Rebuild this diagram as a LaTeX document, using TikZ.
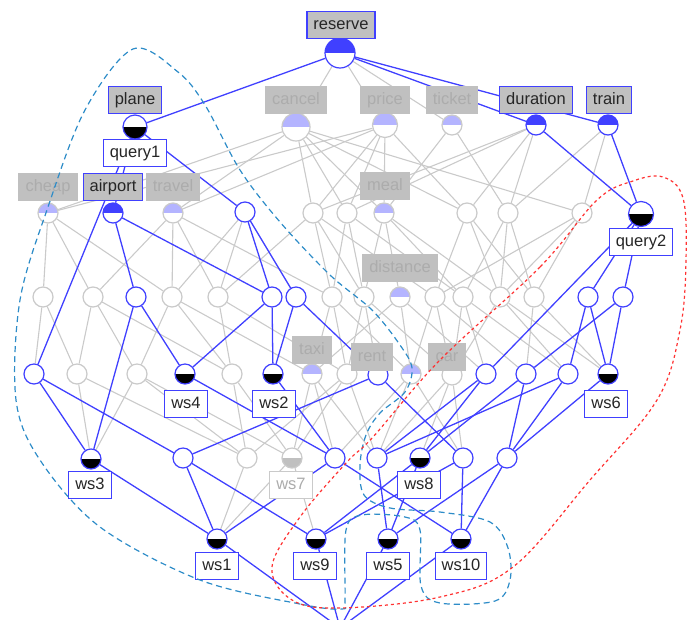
\documentclass[tikz,border=0pt]{standalone}
\usepackage{fontspec}
\setmainfont{Liberation Sans}
\pgfdeclarelayer{bg}
\pgfsetlayers{bg,main}
\begin{document}
\begin{tikzpicture}[x=1pt,y=-1pt]
\definecolor{bl}{RGB}{64,64,255}
\definecolor{gl}{RGB}{202,202,202}
\definecolor{gfill}{RGB}{192,192,192}
\definecolor{gtext}{RGB}{172,172,172}
\definecolor{lb}{RGB}{180,180,255}
\definecolor{dsh}{RGB}{45,140,200}
\definecolor{rd}{RGB}{255,50,50}
\tikzset{
  ge/.style={draw=gl, line width=1.1pt},
  be/.style={draw=bl, line width=1.3pt},
  lab/.style={font=\fontsize{16.5}{18}\selectfont, minimum height=27pt, inner xsep=6.5pt, inner ysep=0pt, text height=12pt, text depth=3.5pt, line width=1.2pt},
  alab/.style={lab, fill=gfill, draw=bl, text=black!85},
  glab/.style={lab, fill=gfill, draw=gfill, text=gtext},
  olab/.style={lab, fill=white, draw=bl, text=black!85},
  golab/.style={lab, fill=white, draw=gl, text=gtext},
  cn/.style={circle, draw=bl, fill=white, line width=1.2pt, minimum size=20pt, inner sep=0pt},
  gn/.style={cn, draw=gl},
  up/.style={path picture={\fill[#1] (path picture bounding box.north west) rectangle (path picture bounding box.east);}},
  dn/.style={path picture={\fill[#1] (path picture bounding box.west) rectangle (path picture bounding box.south east);}},
}
\useasboundingbox (0,0) rectangle (687,619);
\clip (0,0) rectangle (687,619);
% ---------- nodes ----------
\node[cn, minimum size=30pt, up=bl] (R) at (340,53) {};
\node[cn, minimum size=24pt, up=bl, dn=black] (P) at (135,127) {};
\node[gn, minimum size=28pt, up=lb] (C) at (296,127) {};
\node[gn, minimum size=25pt, up=lb] (Pr) at (385,125) {};
\node[gn, up=lb] (T) at (452,125) {};
\node[cn, up=bl] (D) at (536,125) {};
\node[cn, up=bl] (Tr) at (608,125) {};
% level 2
\node[gn, up=lb] (a1) at (48,213) {};
\node[cn, up=bl] (a2) at (113,213) {};
\node[gn, up=lb] (a3) at (173,213) {};
\node[cn] (a4) at (245,212) {};
\node[gn] (a5) at (313,213) {};
\node[gn] (a6) at (347,213) {};
\node[gn, up=lb] (a7) at (384,213) {};
\node[gn] (a8) at (467,213) {};
\node[gn] (a9) at (508,213) {};
\node[gn] (a10) at (582,213) {};
\node[cn, minimum size=25pt, dn=black] (a11) at (641,214) {};
% level 3
\node[gn] (b1) at (43,297) {};
\node[gn] (b2) at (93,297) {};
\node[cn] (b3) at (136,297) {};
\node[gn] (b4) at (172,297) {};
\node[gn] (b5) at (218,297) {};
\node[cn] (b6) at (272,297) {};
\node[cn] (b7) at (296,297) {};
\node[gn] (b8) at (332,297) {};
\node[gn] (b9) at (364,297) {};
\node[gn, up=lb] (b10) at (400,297) {};
\node[gn] (b11) at (435,297) {};
\node[gn] (b12) at (463,297) {};
\node[gn] (b13) at (500,297) {};
\node[gn] (b14) at (534,297) {};
\node[cn] (b15) at (588,297) {};
\node[cn] (b16) at (623,297) {};
% level 4
\node[cn] (c1) at (34,374) {};
\node[gn] (c2) at (77,374) {};
\node[gn] (c3) at (137,374) {};
\node[cn, dn=black] (c4) at (185,374) {};
\node[gn] (c5) at (232,374) {};
\node[cn, dn=black] (c6) at (273,374) {};
\node[gn, up=lb] (c7) at (312,374) {};
\node[gn] (c8) at (347,374) {};
\node[cn] (c9) at (378,375) {};
\node[gn, up=lb] (c10) at (411,374) {};
\node[gn] (c11) at (452,375) {};
\node[cn] (c12) at (486,374) {};
\node[cn] (c13) at (526,374) {};
\node[cn] (c14) at (568,374) {};
\node[cn, dn=black] (c15) at (608,374) {};
% level 5
\node[cn, dn=black] (d1) at (91,459) {};
\node[cn] (d2) at (183,458) {};
\node[gn] (d3) at (247,458) {};
\node[gn, dn=gfill] (d4) at (292,458) {};
\node[cn] (d5) at (335,458) {};
\node[cn] (d6) at (377,458) {};
\node[cn, dn=black] (d7) at (420,458) {};
\node[cn] (d8) at (463,458) {};
\node[cn] (d9) at (507,458) {};
% level 6
\node[cn, dn=black] (e1) at (217,539) {};
\node[cn, dn=black] (e2) at (316,539) {};
\node[cn, dn=black] (e3) at (388,539) {};
\node[cn, dn=black] (e4) at (461,539) {};
\coordinate (B) at (340,628);
% ---------- edges ----------
\begin{pgfonlayer}{bg}
\foreach \u/\v in {R/C, R/Pr, R/T,
  C/a1, C/a3, C/a5, C/a6, C/a7, C/a8, C/a10,
  Pr/a1, Pr/a3, Pr/a5, Pr/a6, Pr/a7, Pr/a8,
  T/a7, T/a9, D/a5, D/a6, D/a8, D/a9, Tr/a9, Tr/a10,
  a1/b1, a1/b2, a1/b4, a3/b2, a3/b4, a3/b5, a3/b8, a4/b4, a4/b5,
  a5/b5, a5/b8, a5/b9, a5/b11, a6/b8, a6/b9, a6/b12,
  a7/b9, a7/b10, a7/b12, a7/b13, a8/b11, a8/b13, a8/b14,
  a9/b12, a9/b13, a9/b14, a10/b11, a10/b13, a10/b14,
  b1/c1, b1/c2, b2/c2, b2/c3, b2/c5, b4/c3, b4/c5, b4/c7,
  b5/c5, b5/c8, b8/c7, b8/c8, b8/c10, b9/c8, b9/c9, b9/c11,
  b10/c10, b10/c7, b10/c12, b11/c10, b11/c11, b11/c13,
  b12/c11, b12/c12, b12/c14, b13/c11, b13/c14, b13/c15, b14/c13, b14/c15,
  c2/d1, c2/d3, c3/d1, c3/d3, c3/d4, c5/d3, c5/d4,
  c7/d4, c7/d5, c7/d6, c8/d3, c8/d4, c8/d6,
  c10/d5, c10/d6, c10/d8, c11/d6, c11/d7, c11/d8,
  d3/e1, d4/e1, d4/e2}
  \draw[ge] (\u) -- (\v);
\foreach \u/\v in {R/P, R/D, R/Tr, P/a2, P/a4, P/c1,
  a2/b3, a2/b6, a4/b6, a4/b7, b3/c4, b3/d1, b6/c4, b6/c6, b7/c6, b7/c9,
  c1/d1, c1/d2, c4/d5, c6/d5, d2/c9, d1/e1, d2/e1, d2/e2, d5/e1, e1/B, e2/B,
  D/a11, Tr/a11, a11/b15, a11/b16, a11/c12, b15/c15, b15/c14, b16/c15, b16/c13,
  c15/d9, c9/d8, d5/e4, d6/e3, d7/e3, d9/e3, d8/e4, d9/e4, e3/B, e4/B,
  c12/d6, c12/d7, c13/d7, c13/d9, c14/d6, c14/d9, e2/d7, e2/d8}
  \draw[be] (\u) -- (\v);
\end{pgfonlayer}
% ---------- labels ----------
\node[alab] (lR) at (341,25) {reserve};
\node[alab] (lP) at (135,100) {plane};
\node[olab] (lq1) at (135,153) {query1};
\node[glab] (lC) at (296,100) {cancel};
\node[glab] (lPr) at (385,100) {price};
\node[glab] (lT) at (452,100) {ticket};
\node[alab] (lD) at (536,100) {duration};
\node[alab] (lTr) at (609,100) {train};
\node[glab] (la1) at (48,187) {cheap};
\node[alab] (la2) at (113,187) {airport};
\node[glab] (la3) at (173,187) {travel};
\node[glab] (la7) at (385,186) {meal};
\node[olab] (lq2) at (641,242) {query2};
\node[glab] (lb10) at (400,268) {distance};
\node[glab] (lc7) at (312,350) {taxi};
\node[glab] (lrent) at (372,357) {rent};
\node[glab] (lcar) at (447,357) {car};
\node[olab] (lc4) at (186,404) {ws4};
\node[olab] (lc6) at (274,404) {ws2};
\node[olab] (lc15) at (606,404) {ws6};
\node[olab] (ld1) at (90,485) {ws3};
\node[golab] (ld4) at (291,485) {ws7};
\node[olab] (ld7) at (419,485) {ws8};
\node[olab] (le1) at (217,566) {ws1};
\node[olab] (le2) at (315,566) {ws9};
\node[olab] (le3) at (388,566) {ws5};
\node[olab] (le4) at (461,566) {ws10};
% ---------- dashed outlines ----------
\draw[dsh, line width=1.2pt, dash pattern=on 6pt off 4pt]
  plot[smooth cycle, tension=0.55] coordinates {
  (342,609) (300,604) (200,580) (100,527) (40,460) (16,400) (20,300) (48,207)
  (85,110) (133,49) (178,72) (205,105) (240,170) (280,222) (330,275) (372,310)
  (400,345) (412,368) (405,392) (380,413) (366,435) (360,465) (364,495) (390,508)
  (440,512) (490,522) (508,548) (510,580) (495,601) (440,603) (421,586) (420,530)
  (405,517) (362,515) (346,530) (345,598)};
\draw[rd, line width=1.2pt, dash pattern=on 3pt off 3pt]
  plot[smooth cycle, tension=0.6] coordinates {
  (597,200) (540,267) (440,360) (373,437) (347,462) (300,517) (272,567) (292,600)
  (340,608) (440,597) (513,567) (590,480) (657,400) (680,330) (686,260) (683,198)
  (663,177) (633,181)};
\end{tikzpicture}
\end{document}
